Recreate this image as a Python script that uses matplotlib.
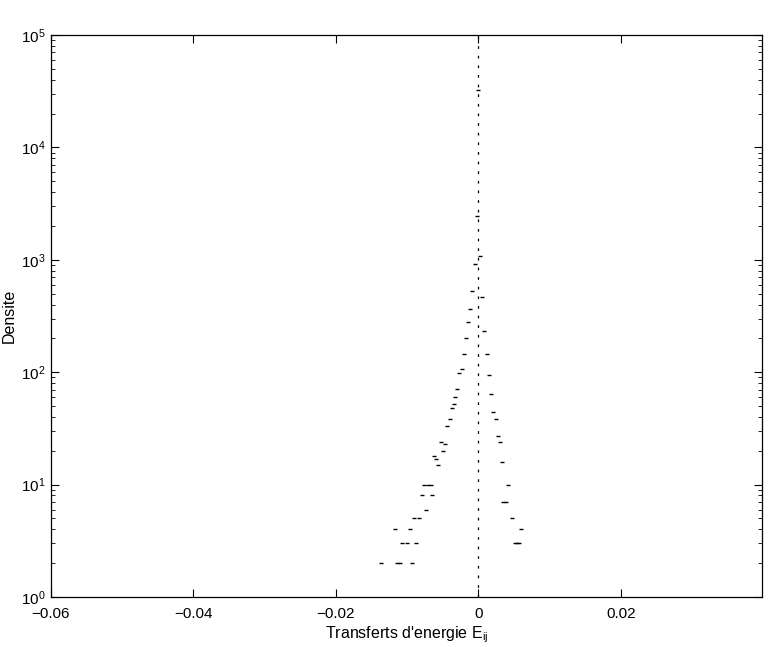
import matplotlib
matplotlib.use("Agg")
import matplotlib.pyplot as plt
from matplotlib.ticker import FixedLocator, FixedFormatter, LogLocator, LogFormatterMathtext, NullFormatter

plt.rcParams['font.family'] = ['Liberation Sans', 'DejaVu Sans']
plt.rcParams['mathtext.fontset'] = 'custom'
plt.rcParams['mathtext.rm'] = 'Liberation Sans'
plt.rcParams['mathtext.it'] = 'Liberation Sans:italic'
plt.rcParams['mathtext.bf'] = 'Liberation Sans:bold'

# Histogram bins: energy transfer value and density (count)
energy = [
    0.0, -0.00022, 0.00024, -0.00053, -0.00084, 0.00056, -0.00121, -0.00149,
    0.00084, -0.00177, -0.00205, 0.00118, -0.00229, -0.00267, 0.0015,
    -0.00295, -0.00323, 0.00178, -0.00348, -0.00376, 0.00202, 0.00241,
    -0.00404, -0.00439, 0.00269, -0.00523, 0.00297, -0.00467, -0.00495,
    0.00326, -0.00617, -0.00589, -0.00561,
    -0.00758, -0.00703, -0.00671, 0.0041,
    -0.0079, -0.00645,
    0.00351, 0.00386,
    -0.0073,
    -0.00909, -0.00835, 0.00473,
    -0.01169, -0.00965, 0.00592,
    -0.01078, -0.00996, -0.00874, 0.00508, 0.00536, 0.00564,
    -0.01372, -0.01138, -0.01101, -0.00937,
]
density = [
    32400, 2450, 1070, 912, 528, 464, 365, 280,
    233, 200, 144, 144, 107, 98, 94,
    71, 60, 64, 52, 48, 44, 38,
    38, 33, 27, 24, 24, 23, 20,
    16, 18, 17, 15,
    10, 10, 10, 10,
    8, 8,
    7, 7,
    6,
    5, 5, 5,
    4, 4, 4,
    3, 3, 3, 3, 3, 3,
    2, 2, 2, 2,
]

xticks = [-0.06, -0.04, -0.02, 0.0, 0.02]
xtick_labels = ['\u22120.06', '\u22120.04', '\u22120.02', '0', '0.02']

fig = plt.figure(figsize=(7.71, 6.47), dpi=100)
ax = fig.add_axes([0.0661, 0.0773, 0.9222, 0.8686])

ax.axvline(0.0, color='black', lw=0.9, ls=(0, (2.2, 5.5)), zorder=1)
ax.plot(energy, density, ls='none', marker='_', color='black',
        markersize=2.6, markeredgewidth=1.0, zorder=2)

ax.set_yscale('log')
ax.set_xlim(-0.06, 0.0398)
ax.set_ylim(1, 1e5)

ax.xaxis.set_major_locator(FixedLocator(xticks))
ax.xaxis.set_major_formatter(FixedFormatter(xtick_labels))
ax.yaxis.set_major_locator(LogLocator(base=10, numticks=10))
ax.yaxis.set_major_formatter(LogFormatterMathtext())
ax.yaxis.set_minor_locator(LogLocator(base=10, subs=range(2, 10), numticks=10))
ax.yaxis.set_minor_formatter(NullFormatter())

ax.tick_params(which='both', direction='in', top=True, right=True,
               labelsize=11, colors='black')
ax.tick_params(which='major', length=6, width=0.8)
ax.tick_params(which='minor', length=3, width=0.6)
ax.tick_params(axis='x', which='major', pad=7)
ax.tick_params(axis='y', which='major', pad=4)
for s in ax.spines.values():
    s.set_linewidth(0.9)

ax.set_xlabel("Transferts d'energie E$_{\\mathrm{ij}}$", fontsize=11.5, labelpad=3)
ax.set_ylabel("Densite", fontsize=11.5, labelpad=3)

fig.savefig('out.png', dpi=100)
